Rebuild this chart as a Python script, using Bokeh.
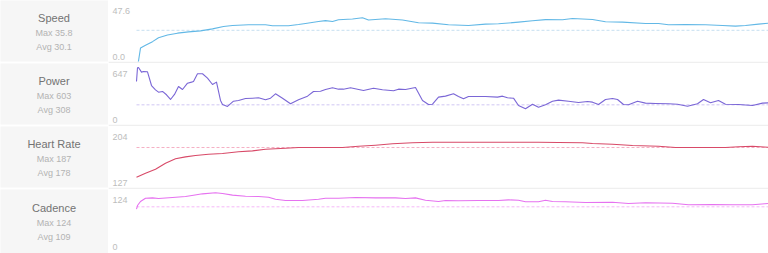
from bokeh.plotting import figure
from bokeh.layouts import column, row
from bokeh.models import Range1d, Label
from bokeh.embed import file_html
from bokeh.resources import INLINE

# ---- data ----
metric_names = ["Speed", "Power", "Heart Rate", "Cadence"]
max_texts = ["Max 35.8", "Max 603", "Max 187", "Max 124"]
avg_texts = ["Avg 30.1", "Avg 308", "Avg 178", "Avg 109"]
tick_top_values = [47.6, 647, 204, 124]
tick_top_labels = ["47.6", "647", "204", "124"]
tick_bottom_values = [0.0, 0, 127, 0]
tick_bottom_labels = ["0.0", "0", "127", "0"]
ref_levels = [30.1, 267, 188.6, 108.2]

speed_x = [0, 1.6, 4, 9, 16, 22, 31, 41, 52, 64, 76, 87, 96, 112, 129, 136, 152, 162, 169, 182,
           189, 196, 202, 216, 226, 232, 249, 266, 282, 296, 312, 332, 349, 362, 382, 396, 409,
           426, 436, 456, 469, 486, 509, 522, 532, 549, 569, 586, 599, 609, 622, 632]
speed_v = [0, 0, 14.0, 16.5, 19.8, 23.4, 25.9, 27.5, 28.7, 29.6, 31.4, 33.5, 34.4, 35.1, 35.1, 34.2,
           34.2, 35.3, 36.3, 38.1, 38.9, 38.1, 39.7, 40.3, 41.5, 39.4, 40.6, 39.4, 36.9, 36.6, 35.1,
           34.4, 35.7, 36.0, 37.5, 38.7, 39.8, 39.7, 40.8, 39.9, 37.8, 37.5, 36.3, 36.3, 35.1, 35.3,
           35.1, 34.4, 33.9, 34.4, 35.7, 36.6]

power_x = [0, 1, 2, 5, 7, 11, 15, 19, 22, 26, 30, 34, 38, 42, 46, 51, 55, 57, 61, 66, 71, 76, 80,
           84, 86, 91, 97, 102, 109, 116, 122, 129, 134, 139, 146, 154, 162, 171, 177, 184, 189,
           196, 202, 207, 214, 221, 227, 237, 246, 257, 262, 269, 279, 286, 292, 296, 302, 309,
           317, 322, 327, 332, 349, 361, 366, 371, 377, 382, 389, 396, 402, 409, 416, 422, 432,
           442, 451, 456, 462, 469, 476, 481, 487, 492, 501, 509, 519, 532, 541, 551, 561, 567,
           574, 582, 589, 602, 616, 626, 632]
power_v = [555, 724, 727, 670, 678, 674, 505, 452, 423, 432, 391, 333, 395, 493, 456, 534, 547, 555,
           650, 650, 596, 518, 547, 321, 271, 247, 312, 321, 345, 349, 354, 329, 349, 403, 349,
           280, 329, 374, 432, 435, 456, 477, 460, 460, 477, 460, 444, 472, 452, 440, 460, 456,
           481, 321, 271, 275, 362, 374, 403, 370, 342, 370, 370, 362, 374, 354, 349, 259, 218,
           275, 238, 268, 312, 325, 312, 296, 308, 300, 271, 333, 345, 333, 271, 268, 312, 288,
           284, 280, 275, 250, 280, 333, 292, 321, 275, 271, 259, 288, 292]

hr_x = [0, 9, 19, 29, 39, 49, 59, 72, 86, 102, 116, 129, 149, 162, 182, 206, 222, 239, 256, 276,
        296, 329, 376, 402, 422, 446, 456, 476, 496, 522, 539, 559, 589, 602, 616, 632]
hr_v = [145.0, 150.9, 156.8, 165.6, 172.0, 174.9, 176.9, 178.8, 179.8, 182.3, 183.7, 186.1, 187.6,
        188.6, 188.6, 188.6, 190.5, 192.0, 194.0, 195.5, 196.4, 196.4, 196.4, 196.4, 195.9, 195.5,
        194.5, 193.4, 191.5, 190.5, 188.6, 188.6, 188.6, 189.6, 190.5, 189.0]

cad_x = [0, 1, 4, 9, 16, 22, 36, 49, 57, 66, 79, 86, 96, 109, 122, 132, 139, 149, 166, 182, 189,
         202, 219, 239, 259, 269, 279, 289, 302, 309, 322, 342, 362, 372, 382, 389, 402, 409, 416,
         429, 449, 476, 492, 509, 536, 552, 576, 596, 616, 632]
cad_v = [102.7, 111.2, 120.5, 128.2, 129.0, 127.5, 129.8, 132.1, 135.2, 138.3, 140.7, 139.0, 135.2,
         132.8, 132.1, 130.5, 125.8, 122.8, 122.8, 125.8, 128.2, 128.2, 129.8, 129.0, 129.0, 127.5,
         129.0, 123.5, 120.5, 122.8, 122.1, 122.8, 122.8, 124.4, 123.5, 119.8, 119.8, 123.5, 120.5,
         119.8, 118.2, 118.9, 115.9, 117.5, 116.6, 112.9, 113.6, 112.9, 112.9, 115.9]

series_x = [speed_x, power_x, hr_x, cad_x]
series_v = [speed_v, power_v, hr_v, cad_v]

# ---- styles ----
line_colors = ["#62b8e6", "#7a66d6", "#d84a68", "#e672f0"]
dash_colors = ["#c6dff0", "#d0c6f3", "#f5b0c4", "#f5b8f8"]
row_heights = [63, 63, 63, 64]
LEFT_W = 108
RIGHT_W = 660
FONT = "Liberation Sans"
X_START = -28
X_END = 632

rows = []
n = len(metric_names)
for i in range(n):
    h = row_heights[i]
    sep = 2 if i < n - 1 else 0
    top = tick_top_values[i]
    bot = tick_bottom_values[i]
    s = (h - 10.5) / (top - bot)          # px per unit
    y_end = top + 10.5 / s
    y_start = bot + sep / s

    # left label panel
    lsep = 1 if sep else 0
    hh = h - lsep
    lp = figure(width=LEFT_W, height=h, x_range=Range1d(0, LEFT_W), y_range=Range1d(0, hh),
                output_backend="svg", toolbar_location=None, x_axis_location=None,
                y_axis_location=None, min_border=0, min_border_bottom=lsep,
                border_fill_color="white", background_fill_color="#f6f6f6",
                outline_line_color=None)
    lp.grid.visible = False
    lp.add_layout(Label(x=LEFT_W / 2 - 0.5, y=hh - 18, text=metric_names[i], text_align="center",
                        text_baseline="middle", text_font=FONT, text_font_size="11px",
                        text_color="#737373"))
    lp.add_layout(Label(x=LEFT_W / 2 - 0.5, y=hh - 33.5, text=max_texts[i], text_align="center",
                        text_baseline="middle", text_font=FONT, text_font_size="9px",
                        text_color="#b3b3b3"))
    lp.add_layout(Label(x=LEFT_W / 2 - 0.5, y=hh - 47, text=avg_texts[i], text_align="center",
                        text_baseline="middle", text_font=FONT, text_font_size="9px",
                        text_color="#b3b3b3"))

    # chart panel
    rp = figure(width=RIGHT_W, height=h, x_range=Range1d(X_START, X_END),
                y_range=Range1d(y_start, y_end), output_backend="svg", toolbar_location=None,
                x_axis_location=None, y_axis_location=None, min_border=0,
                min_border_bottom=sep, border_fill_color="#efefef",
                background_fill_color="white", outline_line_color=None)
    rp.grid.visible = False
    rp.line([0, X_END], [ref_levels[i], ref_levels[i]], line_color=dash_colors[i],
            line_width=1, line_dash="3 2")
    rp.line(series_x[i], series_v[i], line_color=line_colors[i], line_width=1.1,
            line_join="round")
    rp.add_layout(Label(x=X_START + 4, y=top, text=tick_top_labels[i], text_align="left",
                        text_baseline="middle", text_font=FONT, text_font_size="9px",
                        text_color="#bdbdbd"))
    rp.add_layout(Label(x=X_START + 4, y=bot, y_offset=7, text=tick_bottom_labels[i],
                        text_align="left", text_baseline="middle", text_font=FONT,
                        text_font_size="9px", text_color="#bdbdbd"))

    rows.append(row(lp, rp))

layout = column(*rows)

html = file_html(layout, INLINE)
open("out.html", "w").write(html)
